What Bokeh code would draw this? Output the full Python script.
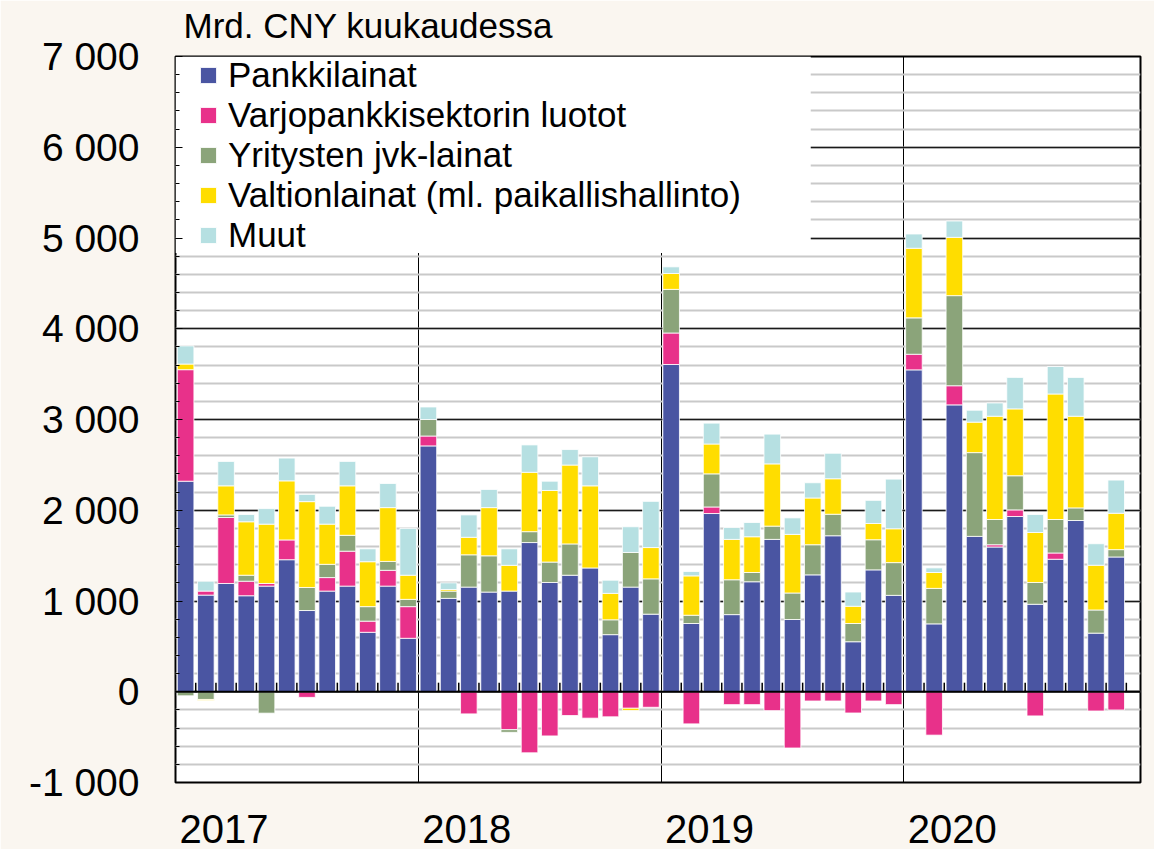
from bokeh.plotting import figure
from bokeh.models import (FixedTicker, Span, BoxAnnotation, Legend, LegendItem,
                          ColumnDataSource, CustomJSTickFormatter)
from bokeh.embed import file_html
from bokeh.resources import INLINE

# ---------------- data (Mrd. CNY per month, Jan 2017 - Nov 2020) ----------------
years = ["2017", "2018", "2019", "2020"]
series_names = ["Pankkilainat", "Varjopankkisektorin luotot", "Yritysten jvk-lainat",
                "Valtionlainat (ml. paikallishallinto)", "Muut"]

pankkilainat = [2320, 1065, 1193, 1058, 1164, 1455, 895, 1109, 1164, 655, 1164, 589,
                2709, 1029, 1153, 1098, 1109, 1644, 1204, 1284, 1364, 629, 1153, 855,
                3606, 752, 1964, 850, 1212, 1679, 796, 1288, 1719, 551, 1343, 1062,
                3547, 748, 3161, 1712, 1595, 1931, 964, 1460, 1887, 646, 1485]
varjopankki = [1229, 44, 727, 160, 29, 218, -62, 149, 385, 123, 174, 349,
               109, 0, -244, 0, -418, -673, -487, -262, -291, -276, -182, -171,
               347, -354, 72, -142, -142, -208, -620, -102, -102, -234, -102, -142,
               172, -478, 211, 0, 25, 73, -266, 69, 0, -212, -201]
yritysten_jvk = [-45, -85, 29, 66, -236, 0, 254, 146, 175, 160, 98, 80,
                 182, 80, 356, 400, -29, 120, 225, 345, 0, 164, 382, 389,
                 481, 91, 365, 384, 102, 146, 292, 332, 237, 201, 332, 361,
                 401, 391, 993, 923, 278, 376, 240, 369, 139, 255, 81]
valtionlainat = [62, -12, 320, 589, 654, 651, 946, 443, 545, 495, 593, 266,
                 0, 18, 193, 531, 284, 654, 789, 869, 905, 291, -25, 345,
                 175, 434, 329, 445, 394, 686, 646, 515, 391, 190, 179, 373,
                 767, 175, 642, 336, 1138, 737, 551, 1383, 1010, 493, 401]
muut = [200, 109, 269, 80, 171, 251, 80, 197, 269, 142, 266, 516,
        138, 73, 247, 200, 182, 302, 102, 171, 320, 145, 283, 509,
        73, 48, 230, 131, 157, 328, 182, 168, 281, 157, 255, 547,
        157, 51, 180, 131, 146, 347, 198, 303, 428, 237, 365]

colors = ["#4A55A2", "#E8318A", "#8BA47A", "#FFDD00", "#B6E0E2"]

# ---------------- figure ----------------
FONT = "Liberation Sans"
n = len(pankkilainat)
xs = [i + 0.5 for i in range(n)]

p = figure(width=1154, height=849, x_range=(0, 47.7), y_range=(-1000, 7000),
           output_backend="svg", toolbar_location=None,
           min_border_left=175, min_border_right=14, min_border_top=55, min_border_bottom=67,
           background_fill_color="white", border_fill_color="#FAF6F0",
           title="Mrd. CNY kuukaudessa")

p.title.text_font = FONT
p.title.text_font_size = "35px"
p.title.text_font_style = "normal"
p.title.text_color = "black"
p.title.align = "left"
p.title.offset = 8
p.title.standoff = 6
p.title.padding = dict(left=0, right=0, top=0, bottom=9)

p.outline_line_color = "black"
p.outline_line_width = 2
p.outline_line_alpha = 1

# y axis
p.yaxis.ticker = FixedTicker(ticks=list(range(-1000, 7001, 1000)),
                             minor_ticks=list(range(-1000, 7001, 200)))
p.yaxis.formatter = CustomJSTickFormatter(
    code="return Math.round(tick).toString().replace(/\\B(?=(\\d{3})+(?!\\d))/g, ' ');")
p.yaxis.axis_line_color = None
p.yaxis.major_tick_in = 7
p.yaxis.major_tick_out = 0
p.yaxis.minor_tick_in = 4
p.yaxis.minor_tick_out = 0
p.yaxis.major_tick_line_color = "black"
p.yaxis.minor_tick_line_color = "black"
p.yaxis.major_label_text_font = FONT
p.yaxis.major_label_text_font_size = "39px"
p.yaxis.major_label_text_color = "black"
p.yaxis.major_label_standoff = 36

# x axis: year labels
p.xaxis.ticker = FixedTicker(ticks=[12 * k + 2.4 for k in range(len(years))])
p.xaxis.formatter = CustomJSTickFormatter(args=dict(labels=years),
                                          code="return labels[Math.floor(tick / 12)];")
p.xaxis.axis_line_color = None
p.xaxis.major_tick_line_color = None
p.xaxis.minor_tick_line_color = None
p.xaxis.major_label_text_font = FONT
p.xaxis.major_label_text_font_size = "40px"
p.xaxis.major_label_text_color = "black"
p.xaxis.major_label_standoff = 26

# grids
p.ygrid.grid_line_color = "#1a1a1a"
p.ygrid.grid_line_width = 1.5
p.ygrid.minor_grid_line_color = "#C9C9C9"
p.ygrid.minor_grid_line_width = 2
p.xgrid.ticker = FixedTicker(ticks=[12 * k for k in range(1, len(years))])
p.xgrid.grid_line_color = "black"
p.xgrid.grid_line_width = 1

# white backdrop behind the legend
p.add_layout(BoxAnnotation(left=0, right=31.4, top=7000, bottom=4835,
                           fill_color="white", fill_alpha=1, line_color=None,
                           level="underlay"))

# stacked bars (positives upward, negatives downward)
pos_base = [0.0] * n
neg_base = [0.0] * n
renderers = []
for vals, col in zip([pankkilainat, varjopankki, yritysten_jvk, valtionlainat, muut], colors):
    bx, bb, bt = [], [], []
    for i, v in enumerate(vals):
        if v == 0:
            continue
        if v > 0:
            b = pos_base[i]
            pos_base[i] = b + v
        else:
            b = neg_base[i]
            neg_base[i] = b + v
        bx.append(xs[i]); bb.append(b); bt.append(b + v)
    src = ColumnDataSource(dict(x=bx, bottom=bb, top=bt))
    r = p.vbar(x="x", bottom="bottom", top="top", width=0.82, source=src,
               fill_color=col, line_color="white", line_width=1, line_alpha=0.8)
    renderers.append(r)

# zero line and month ticks
p.add_layout(Span(location=0, dimension="width", line_color="black", line_width=2))
bounds = [b for b in range(1, n + 1) if b % 12 != 0]
p.segment(x0=bounds, y0=[0] * len(bounds), x1=bounds, y1=[100] * len(bounds),
          line_color="black", line_width=1.5)

legend = Legend(items=[LegendItem(label=nm, renderers=[r]) for nm, r in zip(series_names, renderers)],
                location=(23, 527), padding=0, margin=0, spacing=0,
                glyph_width=20, glyph_height=20, label_standoff=10,
                label_text_font=FONT, label_text_font_size="35px", label_height=39,
                label_text_color="black",
                background_fill_alpha=0, border_line_color=None)
p.add_layout(legend)

open("out.html", "w").write(file_html(p, INLINE))
